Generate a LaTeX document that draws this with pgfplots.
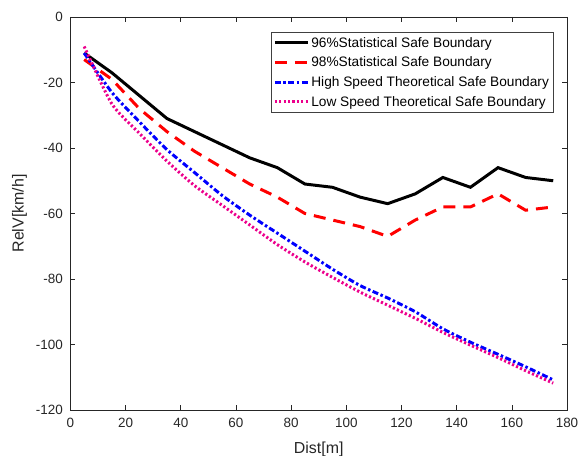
\documentclass[border=0pt]{standalone}
\usepackage{pgfplots}
\pgfplotsset{compat=1.18}
\usepackage{fontspec}
\setmainfont{Liberation Sans}
\definecolor{axgray}{rgb}{0.15,0.15,0.15}
\begin{document}
\begin{tikzpicture}
\begin{axis}[
  width=496.6bp, height=393bp, scale only axis,
  xmin=0, xmax=180, ymin=-120, ymax=0,
  xtick={0,20,...,180}, ytick={-120,-100,...,0},
  tick align=inside, major tick length=5bp,
  axis line style={color=axgray, line width=0.6pt},
  every tick/.style={color=axgray, line width=0.6pt},
  /pgf/number format/assume math mode=true,
  ticklabel style={font=\fontsize{13.5}{16}\selectfont, text=axgray},
  xticklabel style={yshift=-5bp},
  yticklabel style={xshift=-4bp},
  xlabel={Dist[m]}, ylabel={RelV[km/h]},
  label style={font=\fontsize{16}{19}\selectfont, text=axgray},
  xlabel style={at={(axis description cs:0.5,0)}, anchor=center, yshift=-39bp},
  ylabel style={at={(axis description cs:0,0.5)}, anchor=center, yshift=51bp},
  legend style={at={(0.972,0.962)}, anchor=north east,
    font=\fontsize{13.75}{16}\selectfont, draw=black!75,
    inner xsep=2pt, inner ysep=3pt, row sep=4.3bp},
  legend cell align=left,
  legend image code/.code={\draw[#1] (0bp,0bp) -- (33bp,0bp);},
]
\addplot[black, line width=3pt] coordinates {
(5,-11)(15,-17)(25,-24)(35,-31)(45,-35)(55,-39)(65,-43)(75,-46)(85,-51)
(95,-52)(105,-55)(115,-57)(125,-54)(135,-49)(145,-52)(155,-46)(165,-49)(175,-50)};
\addlegendentry{96\%Statistical Safe Boundary}
\addplot[red, line width=3pt, dash pattern=on 12bp off 8bp] coordinates {
(5,-13)(15,-19)(25,-28)(35,-35)(45,-41)(55,-46)(65,-51)(75,-55)(85,-60)
(95,-62)(105,-64)(115,-67)(125,-62)(135,-58)(145,-58)(155,-54)(165,-59)(175,-58)};
\addlegendentry{98\%Statistical Safe Boundary}
\addplot[blue, line width=3pt, smooth, tension=0.4, dash pattern=on 6bp off 2.5bp on 2.5bp off 2.5bp] coordinates {
(5,-11)(15,-23)(25,-32)(35,-40.5)(45,-47.5)(55,-54.5)(65,-60.5)(75,-66)(85,-71.5)
(95,-77)(105,-82)(115,-85.8)(125,-90)(135,-95.2)(145,-99.3)(155,-103)(165,-106.8)(175,-110.8)};
\addlegendentry{High Speed Theoretical Safe Boundary}
\addplot[magenta, line width=3pt, smooth, tension=0.4, dash pattern=on 2.2bp off 2.2bp] coordinates {
(5,-9)(15,-26.5)(25,-35.5)(35,-44)(45,-51.5)(55,-57.5)(65,-63.5)(75,-69.5)(85,-74.8)
(95,-79.5)(105,-84)(115,-88)(125,-92)(135,-96.3)(145,-100.2)(155,-104)(165,-108)(175,-111.8)};
\addlegendentry{Low Speed Theoretical Safe Boundary}
\end{axis}
\pgfresetboundingbox
\useasboundingbox ([shift={(-70.4bp,-46bp)}]current axis.south west) rectangle ([shift={(14bp,17bp)}]current axis.north east);
\end{tikzpicture}
\end{document}
